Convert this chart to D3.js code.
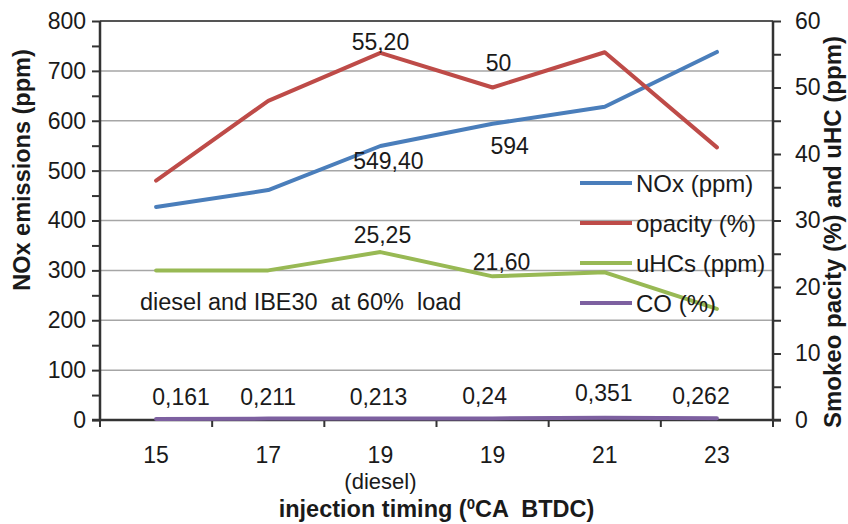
<!DOCTYPE html>
<html>
<head>
<meta charset="utf-8">
<script src="https://cdn.jsdelivr.net/npm/d3@7"></script>
<style>
  html, body { margin: 0; padding: 0; background: #fff; }
  svg { display: block; font-family: "Liberation Sans", Arial, sans-serif; }
  text { white-space: pre; fill: #1a1a1a; }
</style>
</head>
<body>
<svg id="chart" width="848" height="524"></svg>
<script>
// Injection timing categories (°CA BTDC); the third point is the diesel reference
const timings = ["15", "17", "19", "19", "21", "23"];
const timingNotes = ["", "", "(diesel)", "", "", ""];

// NOx on the left axis (ppm)
const noxPpm = [427, 461, 549.4, 594, 628, 738];
// Smoke opacity (%), unburnt HC (ppm) and CO (%) on the right axis
const opacityPct = [36, 48, 55.2, 50, 55.3, 41];
const uhcPpm = [22.5, 22.5, 25.25, 21.6, 22.2, 16.7];
const coPct = [0.161, 0.211, 0.213, 0.24, 0.351, 0.262];

const leftTicks = [0, 100, 200, 300, 400, 500, 600, 700, 800];
const rightTicks = [0, 10, 20, 30, 40, 50, 60];

const seriesNames = ["NOx (ppm)", "opacity (%)", "uHCs (ppm)", "CO (%)"];
const seriesColors = ["#4a7ebb", "#be4b48", "#98b954", "#7d60a0"];

// Which points carry a value label: [series, point index, decimals, dx, dy]
const valueLabels = [
  [1, 2, 2, 0, -11],
  [1, 3, 0, 6, -25],
  [0, 2, 2, 8, 15],
  [0, 3, 0, 17, 22],
  [2, 2, 2, 2, -17],
  [2, 3, 2, 9, -14],
  [3, 0, 3, 25, -22],
  [3, 1, 3, 0, -22],
  [3, 2, 3, -2, -22],
  [3, 3, 2, -8, -22],
  [3, 4, 3, -1, -25],
  [3, 5, 3, -16, -22]
];

const FONT = 23;

const svg = d3.select("#chart");
const plot = { left: 100, right: 773, top: 21, bottom: 420 };

const x = d3.scaleBand().domain(d3.range(timings.length)).range([plot.left, plot.right]);
const yLeft = d3.scaleLinear().domain([0, 800]).range([plot.bottom, plot.top]);
const yRight = d3.scaleLinear().domain([0, 60]).range([plot.bottom, plot.top]);
const cx = i => x(i) + x.bandwidth() / 2;

// Horizontal gridlines at the left-axis major ticks
svg.append("g")
  .selectAll("line")
  .data(leftTicks.filter(t => t > 0 && t < 800))
  .join("line")
  .attr("x1", plot.left).attr("x2", plot.right)
  .attr("y1", d => yLeft(d)).attr("y2", d => yLeft(d))
  .attr("stroke", "#a6a6a6").attr("stroke-width", 1.5);

// Top border of the plot area
svg.append("line")
  .attr("x1", plot.left).attr("x2", plot.right)
  .attr("y1", yLeft(800)).attr("y2", yLeft(800))
  .attr("stroke", "#555").attr("stroke-width", 2);

// Left axis
const leftAxis = svg.append("g").attr("transform", `translate(${plot.left},0)`)
  .call(d3.axisLeft(yLeft).tickValues(d3.range(0, 801, 50)).tickSize(8).tickPadding(6)
    .tickFormat(d => leftTicks.includes(d) ? d : ""));
// Right axis
const rightAxis = svg.append("g").attr("transform", `translate(${plot.right},0)`)
  .call(d3.axisRight(yRight).tickValues(d3.range(0, 61, 5)).tickSize(8).tickPadding(14)
    .tickFormat(d => rightTicks.includes(d) ? d : ""));
// Bottom axis: ticks sit on category boundaries
const bottomAxis = svg.append("g").attr("transform", `translate(0,${plot.bottom})`);
bottomAxis.append("line")
  .attr("x1", plot.left - 8).attr("x2", plot.right + 8)
  .attr("stroke", "#333").attr("stroke-width", 2.5);
bottomAxis.selectAll("line.tick")
  .data(d3.range(timings.length + 1))
  .join("line").attr("class", "tick")
  .attr("x1", i => plot.left + i * x.bandwidth()).attr("x2", i => plot.left + i * x.bandwidth())
  .attr("y1", 0).attr("y2", 7)
  .attr("stroke", "#333").attr("stroke-width", 2);
// Category labels, with an optional note line underneath
const cats = timings.map((t, i) => ({ i, label: t, note: timingNotes[i] }));
bottomAxis.selectAll("text.cat")
  .data(cats)
  .join("text").attr("class", "cat")
  .attr("x", d => cx(d.i)).attr("y", 43)
  .attr("text-anchor", "middle").attr("font-size", FONT)
  .text(d => d.label);
bottomAxis.selectAll("text.note")
  .data(cats.filter(d => d.note))
  .join("text").attr("class", "note")
  .attr("x", d => cx(d.i)).attr("y", 69)
  .attr("text-anchor", "middle").attr("font-size", 22)
  .text(d => d.note);

[leftAxis, rightAxis].forEach(g => {
  g.select(".domain").attr("stroke", "#333").attr("stroke-width", 2.5);
  g.selectAll(".tick line").attr("stroke", "#333").attr("stroke-width", 2);
  g.selectAll(".tick text").attr("font-size", FONT).attr("fill", "#1a1a1a")
    .attr("font-family", "Liberation Sans, Arial, sans-serif");
});
leftAxis.select(".domain").attr("d", `M0,${plot.bottom}V${plot.top}`);
rightAxis.select(".domain").attr("d", `M0,${plot.bottom}V${plot.top}`);

// Axis titles
svg.append("text")
  .attr("transform", "translate(30,170) rotate(-90)")
  .attr("text-anchor", "middle").attr("font-size", 23.5).attr("font-weight", "bold")
  .text("NOx emissions (ppm)");
svg.append("text")
  .attr("transform", "translate(841,232) rotate(-90)")
  .attr("text-anchor", "middle").attr("font-size", 24).attr("font-weight", "bold")
  .text("Smokeo pacity (%) and uHC (ppm)");
const xTitle = svg.append("text")
  .attr("x", (plot.left + plot.right) / 2).attr("y", 517)
  .attr("text-anchor", "middle").attr("font-size", 23.5).attr("font-weight", "bold");
xTitle.append("tspan").text("injection timing (");
xTitle.append("tspan").attr("font-size", 15).attr("dy", -8).text("0");
xTitle.append("tspan").attr("dy", 8).text("CA  BTDC)");

// Condition note inside the plot
svg.append("text")
  .attr("x", 140).attr("y", 310).attr("font-size", 23.5)
  .text("diesel and IBE30  at 60%  load");

// Series lines
const series = [
  { values: noxPpm, y: yLeft },
  { values: opacityPct, y: yRight },
  { values: uhcPpm, y: yRight },
  { values: coPct, y: yRight }
];
const line = s => d3.line().x((d, i) => cx(i)).y(d => s.y(d));
svg.append("g").selectAll("path")
  .data(series)
  .join("path")
  .attr("d", s => line(s)(s.values))
  .attr("fill", "none")
  .attr("stroke", (s, i) => seriesColors[i])
  .attr("stroke-width", 4)
  .attr("stroke-linejoin", "round")
  .attr("stroke-linecap", "round");

// Value labels
svg.append("g").selectAll("text")
  .data(valueLabels)
  .join("text")
  .attr("x", ([s, i, dec, dx]) => cx(i) + dx)
  .attr("y", ([s, i, dec, dx, dy]) => series[s].y(series[s].values[i]) + dy)
  .attr("text-anchor", "middle").attr("dominant-baseline", "central")
  .attr("font-size", FONT)
  .text(([s, i, dec]) => series[s].values[i].toFixed(dec).replace(".", ","));

// Legend (no box; sits over the gridlines)
const legend = svg.append("g").attr("transform", "translate(580,183)");
const items = legend.selectAll("g").data(seriesNames).join("g")
  .attr("transform", (d, i) => `translate(0,${i * 40})`);
items.append("line").attr("x1", 0).attr("x2", 52)
  .attr("stroke", (d, i) => seriesColors[i]).attr("stroke-width", 4);
items.append("text").attr("x", 56).attr("dominant-baseline", "central")
  .attr("font-size", 24).text(d => d);
</script>
</body>
</html>
